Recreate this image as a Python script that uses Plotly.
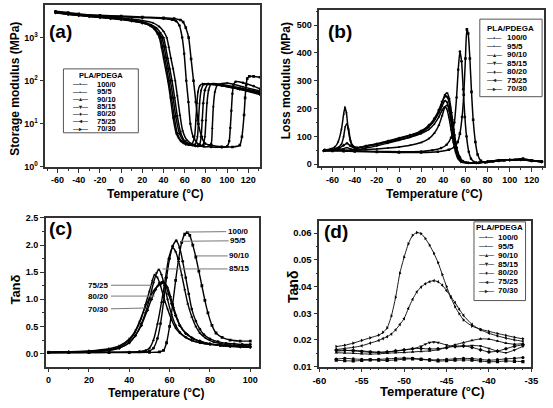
import plotly.graph_objects as go

W, H = 553, 408
FONT = "Liberation Sans, Arial, sans-serif"

series_names = ["100/0", "95/5", "90/10", "85/15", "80/20", "75/25", "70/30"]
marker_symbols = ["square", "circle", "triangle-up", "triangle-down", "diamond", "triangle-left", "triangle-right"]
legend_glyphs = ["▪", "•", "▴", "▾", "♦", "◂", "▸"]

# ---------------- Panel (a): storage modulus (MPa) ----------------
a_T_100_0 = [-62, -50, -40, -20, 0, 20, 40, 50, 56, 58.5, 61, 63.7, 66, 68.3, 70.5, 72.9, 76, 79, 85, 95, 105, 112, 114, 116, 117, 118, 119, 121, 125, 131]
a_E_100_0 = [4100, 3800, 3550, 3300, 3150, 3000, 2880, 2750, 2570, 2300, 1700, 1000, 320, 100, 32, 10, 5, 3.5, 3.2, 2.95, 2.9, 3.2, 5, 16, 40, 80, 112, 126, 126, 120]
a_T_95_5 = [-62, -50, -40, -20, 0, 20, 40, 48, 52, 55, 57.6, 59.5, 61.5, 63.5, 65.3, 68, 72.9, 78, 85, 95, 100, 102, 103, 104, 105, 106, 108, 115, 125, 131]
a_E_95_5 = [3900, 3600, 3400, 3200, 3050, 2900, 2750, 2600, 2400, 1900, 1000, 420, 100, 32, 10, 5, 3.3, 3.0, 2.9, 2.85, 3.0, 4, 8, 20, 50, 80, 95, 90, 75, 65]
a_T_90_10 = [-62, -50, -40, -30, -20, -10, 0, 10, 20, 30, 36, 40, 43, 45, 47, 49, 51, 53, 55.5, 58, 62, 68, 75, 82, 85, 86, 87, 88.5, 91, 100, 115, 131]
a_E_90_10 = [3950, 3650, 3450, 3280, 3130, 3000, 2850, 2700, 2500, 2200, 1800, 1400, 1000, 600, 330, 190, 100, 45, 16, 7, 4.2, 3.3, 3.0, 3.0, 3.5, 8, 25, 55, 80, 88, 72, 58]
a_T_85_15 = [-62, -50, -40, -30, -20, -10, 0, 10, 20, 28, 33, 37, 40, 42, 44, 46, 48, 50.5, 53, 56, 60, 66, 72, 77, 79, 80, 81, 82.5, 85, 95, 112, 131]
a_E_85_15 = [3900, 3600, 3400, 3200, 3050, 2900, 2750, 2550, 2300, 2000, 1700, 1300, 1000, 600, 330, 185, 100, 40, 15, 6.5, 4, 3.3, 3.0, 3.2, 5, 12, 30, 60, 85, 82, 68, 55]
a_T_80_20 = [-62, -50, -40, -30, -20, -10, 0, 10, 20, 28, 32, 36, 38.5, 40.5, 42.5, 44.5, 46.5, 49, 51.5, 55, 59, 64, 70, 74, 75.5, 76.5, 77.5, 79, 82, 95, 112, 131]
a_E_80_20 = [3750, 3450, 3250, 3080, 2930, 2780, 2620, 2420, 2180, 1880, 1580, 1200, 1000, 620, 340, 190, 100, 40, 15, 6, 4, 3.3, 3.1, 3.3, 5, 12, 30, 60, 84, 78, 63, 48]
a_T_75_25 = [-62, -50, -40, -30, -20, -10, 0, 10, 20, 27, 31, 35, 37, 39, 41, 43, 45, 47.5, 50, 53, 57, 62, 67, 70, 72, 73, 74, 75.5, 78, 90, 110, 131]
a_E_75_25 = [3850, 3550, 3350, 3150, 3000, 2850, 2700, 2500, 2250, 1950, 1650, 1250, 1000, 620, 340, 190, 100, 40, 15, 6, 4, 3.4, 3.2, 3.4, 5, 12, 30, 60, 82, 80, 66, 52]
a_T_70_30 = [-62, -50, -40, -30, -20, -10, 0, 10, 20, 27, 31, 34, 36, 38, 40, 42, 44, 46.5, 49, 52, 56, 61, 66, 69, 70.5, 71.5, 72.5, 74, 77, 90, 110, 131]
a_E_70_30 = [3800, 3500, 3300, 3100, 2950, 2800, 2650, 2450, 2200, 1900, 1600, 1250, 1000, 600, 330, 180, 100, 40, 14, 6, 4, 3.3, 3.3, 4.5, 12, 30, 55, 75, 85, 80, 65, 50]

# ---------------- Panel (b): loss modulus (MPa) ----------------
b_T_100_0 = [-67, -60, -50, -40, -20, 0, 20, 35, 45, 50, 53, 55, 57, 58.5, 60, 61.3, 62.5, 64, 65.5, 67, 69, 71, 74, 78, 85, 95, 105, 112, 120, 129]
b_E_100_0 = [50, 48, 47, 46, 44, 42, 42, 45, 52, 62, 80, 110, 170, 250, 380, 485, 470, 380, 260, 160, 80, 35, 12, 6, 10, 14, 16, 20, 14, 10]
b_T_95_5 = [-67, -60, -50, -40, -20, 0, 20, 30, 38, 43, 47, 50, 52, 53.5, 55, 56.5, 58, 59.5, 61, 63, 65, 68, 72, 80, 90, 100, 110, 120, 129]
b_E_95_5 = [52, 50, 50, 48, 46, 45, 46, 50, 58, 70, 95, 150, 240, 340, 405, 370, 270, 170, 100, 45, 20, 8, 5, 8, 12, 15, 18, 13, 10]
b_T_90_10 = [-68, -60, -50, -40, -30, -20, -10, 0, 10, 20, 27, 32, 36, 39, 41.5, 43.5, 45.5, 47.5, 49.5, 51.5, 54, 57, 61, 70, 80, 90, 100, 110, 120, 129]
b_E_90_10 = [48, 48, 50, 50, 52, 55, 58, 62, 68, 78, 92, 112, 140, 175, 205, 212, 195, 155, 105, 60, 25, 10, 6, 5, 9, 13, 15, 17, 12, 9]
b_T_85_15 = [-68, -60, -50, -47, -44, -40, -30, -20, -10, 0, 10, 20, 27, 32, 36, 39, 41.5, 43.5, 45.5, 47.5, 49.5, 51.5, 54, 57, 61, 70, 80, 90, 100, 110, 120, 129]
b_E_85_15 = [48, 50, 56, 60, 55, 52, 58, 66, 76, 86, 98, 114, 135, 160, 190, 222, 250, 256, 235, 185, 125, 70, 30, 12, 6, 5, 10, 14, 16, 18, 13, 9]
b_T_80_20 = [-68, -60, -54, -50, -47, -44, -40, -30, -20, -10, 0, 10, 20, 27, 32, 36, 39, 42, 44, 46, 48, 50, 52, 55, 58, 63, 70, 80, 90, 100, 110, 120, 129]
b_E_80_20 = [48, 52, 58, 68, 75, 66, 58, 64, 72, 82, 92, 104, 120, 140, 165, 195, 225, 245, 240, 205, 160, 105, 60, 25, 10, 5, 5, 9, 13, 15, 16, 12, 9]
b_T_75_25 = [-68, -62, -56, -52, -50, -48.5, -47, -45.5, -44, -42, -38, -30, -20, -10, 0, 10, 20, 27, 32, 36, 39, 41.5, 43.5, 45.5, 47.5, 49.5, 51.5, 54, 57, 62, 70, 80, 90, 100, 110, 120, 129]
b_E_75_25 = [50, 52, 58, 72, 100, 135, 145, 125, 90, 68, 60, 66, 74, 84, 94, 104, 118, 135, 158, 185, 210, 228, 222, 190, 140, 90, 50, 22, 9, 5, 5, 10, 14, 16, 17, 13, 9]
b_T_70_30 = [-68, -62, -58, -55, -52, -50, -48.8, -47.5, -46, -44, -42, -38, -30, -20, -10, 0, 10, 20, 27, 32, 36, 39, 41, 43, 45, 47, 49, 51, 53, 56, 60, 70, 80, 90, 100, 110, 120, 129]
b_E_70_30 = [50, 55, 62, 80, 125, 180, 205, 185, 130, 85, 65, 58, 65, 72, 80, 88, 97, 110, 125, 145, 170, 195, 205, 200, 170, 125, 80, 45, 22, 8, 5, 5, 10, 14, 15, 16, 12, 8]

# ---------------- Panel (c): tan delta, 0-100 C ----------------
c_T_100_0 = [0, 10, 20, 30, 40, 50, 55, 57, 58.5, 60, 61.5, 63, 64.5, 66, 67.5, 68.8, 70, 71.5, 73, 74.5, 76, 77.5, 79, 81, 83, 86, 90, 95, 100]
c_V_100_0 = [0.02, 0.02, 0.02, 0.02, 0.02, 0.022, 0.03, 0.06, 0.2, 0.5, 0.9, 1.35, 1.75, 2.05, 2.2, 2.23, 2.18, 2.0, 1.78, 1.52, 1.25, 0.98, 0.75, 0.52, 0.38, 0.3, 0.25, 0.23, 0.23]
c_T_95_5 = [0, 10, 20, 30, 40, 45, 50, 52, 54, 55.5, 57, 58.5, 60, 61.5, 63.3, 65, 66.5, 68, 69.5, 71, 73, 75, 77, 80, 84, 88, 92, 96, 100]
c_V_95_5 = [0.02, 0.02, 0.021, 0.022, 0.025, 0.03, 0.05, 0.1, 0.28, 0.55, 0.95, 1.4, 1.75, 1.98, 2.08, 1.95, 1.7, 1.4, 1.1, 0.82, 0.6, 0.45, 0.35, 0.27, 0.22, 0.19, 0.18, 0.17, 0.17]
c_T_90_10 = [0, 10, 20, 30, 40, 45, 48, 50, 52, 54, 56, 58, 59.5, 61.5, 63, 64.5, 66, 67.5, 69, 71, 73, 75, 78, 82, 86, 90, 95, 100]
c_V_90_10 = [0.02, 0.021, 0.022, 0.024, 0.03, 0.04, 0.06, 0.1, 0.25, 0.55, 0.95, 1.4, 1.75, 1.95, 1.88, 1.7, 1.45, 1.18, 0.92, 0.68, 0.5, 0.38, 0.28, 0.21, 0.18, 0.16, 0.15, 0.14]
c_T_85_15 = [0, 10, 20, 30, 35, 40, 43, 46, 48, 50, 52, 53.5, 54.7, 56, 57.5, 59, 61, 63, 65, 68, 71, 75, 80, 85, 90, 95, 100]
c_V_85_15 = [0.02, 0.025, 0.035, 0.06, 0.1, 0.2, 0.33, 0.55, 0.75, 1.0, 1.3, 1.48, 1.55, 1.45, 1.25, 1.0, 0.72, 0.52, 0.4, 0.3, 0.24, 0.2, 0.17, 0.15, 0.14, 0.13, 0.13]
c_T_80_20 = [0, 10, 20, 30, 35, 40, 43, 46, 49, 51, 53, 55, 56.5, 58, 59.5, 61, 63, 65, 68, 71, 75, 80, 85, 90, 95, 100]
c_V_80_20 = [0.02, 0.025, 0.035, 0.06, 0.1, 0.2, 0.33, 0.52, 0.8, 1.0, 1.18, 1.3, 1.32, 1.25, 1.1, 0.92, 0.7, 0.52, 0.37, 0.29, 0.23, 0.18, 0.16, 0.14, 0.13, 0.12]
c_T_75_25 = [0, 10, 20, 30, 35, 40, 43, 46, 48, 50, 51.5, 52.5, 54, 55.5, 57, 59, 61, 63, 65, 68, 71, 75, 80, 85, 90, 95, 100]
c_V_75_25 = [0.025, 0.03, 0.045, 0.075, 0.12, 0.24, 0.4, 0.65, 0.9, 1.15, 1.35, 1.45, 1.4, 1.25, 1.05, 0.82, 0.62, 0.47, 0.38, 0.3, 0.25, 0.2, 0.17, 0.15, 0.13, 0.12, 0.12]
c_T_70_30 = [0, 10, 20, 30, 35, 40, 43, 45, 47.7, 50, 52, 54, 56, 57.5, 59, 60.5, 62, 64, 66, 69, 72, 76, 80, 85, 90, 95, 100]
c_V_70_30 = [0.025, 0.035, 0.05, 0.09, 0.14, 0.27, 0.42, 0.58, 0.84, 1.02, 1.15, 1.24, 1.29, 1.3, 1.22, 1.05, 0.85, 0.62, 0.47, 0.35, 0.27, 0.21, 0.18, 0.15, 0.14, 0.13, 0.12]

# ---------------- Panel (d): tan delta, low temperature ----------------
d_T_fine = [-58, -57, -56, -55, -54, -53, -52, -51, -50, -49, -48, -47, -46, -45, -44, -43, -42, -41, -40, -39, -38, -37, -36]
d_V_100_0 = [0.0124, 0.0122, 0.0121, 0.0123, 0.0125, 0.0124, 0.0123, 0.0125, 0.0128, 0.0129, 0.0127, 0.0124, 0.0121, 0.0122, 0.0124, 0.0125, 0.0124, 0.0121, 0.0118, 0.0119, 0.0121, 0.012, 0.0119]
d_V_95_5 = [0.0128, 0.0131, 0.0129, 0.0127, 0.0126, 0.0127, 0.0129, 0.0131, 0.0132, 0.0131, 0.0128, 0.0126, 0.0125, 0.0127, 0.0129, 0.0131, 0.013, 0.0127, 0.0124, 0.0126, 0.0129, 0.0131, 0.0134]
d_V_90_10 = [0.0152, 0.0151, 0.015, 0.0148, 0.0147, 0.0148, 0.015, 0.0152, 0.0153, 0.0155, 0.0157, 0.0159, 0.0163, 0.0172, 0.0182, 0.019, 0.0198, 0.0204, 0.0203, 0.0196, 0.0188, 0.0184, 0.0186]
d_T_85_15 = [-58, -57, -56, -55, -54, -53, -52, -51, -50, -49, -48, -47.5, -47, -46.5, -46, -45, -44, -43, -42, -41, -40, -39, -38, -37, -36]
d_V_85_15 = [0.0158, 0.016, 0.0161, 0.0159, 0.0156, 0.0154, 0.0155, 0.0158, 0.0162, 0.0167, 0.0176, 0.0184, 0.019, 0.0192, 0.019, 0.0181, 0.0174, 0.0176, 0.0179, 0.0177, 0.0168, 0.0158, 0.0152, 0.0162, 0.0176]
d_V_80_20 = [0.0162, 0.0161, 0.0159, 0.0156, 0.0154, 0.0153, 0.0155, 0.0159, 0.0163, 0.0167, 0.0168, 0.0166, 0.0167, 0.0171, 0.0176, 0.0178, 0.0172, 0.0163, 0.0155, 0.0158, 0.0167, 0.0176, 0.0182]
d_T_peak = [-58, -57, -56, -55, -54, -53, -52.5, -52, -51.5, -51, -50.5, -50, -49.5, -49, -48.5, -48, -47.5, -47, -46.5, -46, -45.5, -45, -44.5, -44, -43.5, -43, -42, -41, -40, -39, -38, -37, -36]
d_V_75_25 = [0.0164, 0.0168, 0.0172, 0.0178, 0.0188, 0.0198, 0.0205, 0.0212, 0.0222, 0.0238, 0.0258, 0.028, 0.0318, 0.0352, 0.038, 0.0398, 0.041, 0.0418, 0.0422, 0.0418, 0.0405, 0.0385, 0.0362, 0.034, 0.0315, 0.0292, 0.0258, 0.0238, 0.0225, 0.0215, 0.0207, 0.02, 0.0195]
d_V_70_30 = [0.0175, 0.018, 0.0188, 0.0198, 0.0208, 0.0218, 0.0228, 0.0245, 0.029, 0.036, 0.045, 0.051, 0.056, 0.0592, 0.0602, 0.0598, 0.058, 0.0555, 0.0525, 0.049, 0.0445, 0.040, 0.036, 0.0325, 0.0298, 0.0275, 0.0252, 0.024, 0.0232, 0.0224, 0.0217, 0.021, 0.0204]

# ---------------- ticks ----------------
ab_xticks = [-60, -40, -20, 0, 20, 40, 60, 80, 100, 120]
a_yticks = [1, 10, 100, 1000]
a_yticktext = ["10<sup>0</sup>", "10<sup>1</sup>", "10<sup>2</sup>", "10<sup>3</sup>"]
b_yticks = [0, 100, 200, 300, 400, 500]
c_xticks = [0, 20, 40, 60, 80, 100]
c_yticks = [0.0, 0.5, 1.0, 1.5, 2.0, 2.5]
d_xticks = [-60, -55, -50, -45, -40, -35]
d_yticks = [0.01, 0.02, 0.03, 0.04, 0.05, 0.06]

panel_a = [(a_T_100_0, a_E_100_0), (a_T_95_5, a_E_95_5), (a_T_90_10, a_E_90_10), (a_T_85_15, a_E_85_15),
           (a_T_80_20, a_E_80_20), (a_T_75_25, a_E_75_25), (a_T_70_30, a_E_70_30)]
panel_b = [(b_T_100_0, b_E_100_0), (b_T_95_5, b_E_95_5), (b_T_90_10, b_E_90_10), (b_T_85_15, b_E_85_15),
           (b_T_80_20, b_E_80_20), (b_T_75_25, b_E_75_25), (b_T_70_30, b_E_70_30)]
panel_c = [(c_T_100_0, c_V_100_0), (c_T_95_5, c_V_95_5), (c_T_90_10, c_V_90_10), (c_T_85_15, c_V_85_15),
           (c_T_80_20, c_V_80_20), (c_T_75_25, c_V_75_25), (c_T_70_30, c_V_70_30)]
panel_d = [(d_T_fine, d_V_100_0), (d_T_fine, d_V_95_5), (d_T_fine, d_V_90_10), (d_T_85_15, d_V_85_15),
           (d_T_fine, d_V_80_20), (d_T_peak, d_V_75_25), (d_T_peak, d_V_70_30)]
for pan in (panel_a, panel_b, panel_c, panel_d):
    for xs, ys in pan:
        assert len(xs) == len(ys), (len(xs), len(ys))

fig = go.Figure()
panels = [(panel_a, "x", "y", 1.5, 2.6), (panel_b, "x2", "y2", 1.5, 2.6),
          (panel_c, "x3", "y3", 1.4, 2.8), (panel_d, "x4", "y4", 0.9, 3.2)]
for data, xa, ya, lw, ms in panels:
    for (xs, ys), name, sym in zip(data, series_names, marker_symbols):
        fig.add_trace(go.Scatter(
            x=xs, y=ys, xaxis=xa, yaxis=ya, name=name, mode="lines+markers",
            line=dict(color="black", width=lw, shape="spline", smoothing=0.6),
            marker=dict(symbol=sym, size=ms, color="black"),
            showlegend=False))


def px(x):
    return x / W


def py(y):
    return 1 - y / H


def axis(domain, rng, tickvals, ticktext=None, minor_dtick=None, typ="linear", anchor=None, fsize=9):
    d = dict(domain=domain, range=rng, type=typ, anchor=anchor,
             showline=True, linecolor="#333", linewidth=1.5, mirror=True,
             ticks="outside", ticklen=4, tickwidth=1, tickcolor="#333",
             tickvals=tickvals, ticktext=ticktext if ticktext else [str(v) for v in tickvals],
             tickfont=dict(family=FONT, size=fsize, color="black", weight="bold"),
             showgrid=False, zeroline=False)
    if minor_dtick:
        d["minor"] = dict(ticks="outside", ticklen=2, tickwidth=1, tickcolor="#333", dtick=minor_dtick, showgrid=False)
    return d


fig.update_layout(
    width=W, height=H, margin=dict(l=0, r=0, t=0, b=0),
    paper_bgcolor="white", plot_bgcolor="white", showlegend=False,
    font=dict(family=FONT, color="black"),
    xaxis=axis([px(39.5), px(260)], [-71.5, 131], ab_xticks, minor_dtick=10, anchor="y"),
    yaxis=axis([py(166), py(0.5)], [0, 3.745], a_yticks, a_yticktext, typ="log", anchor="x"),
    xaxis2=axis([px(321), px(552)], [-72, 131], ab_xticks, minor_dtick=10, anchor="y2"),
    yaxis2=axis([py(165.5), py(5)], [-8, 555], b_yticks, minor_dtick=50, anchor="x2"),
    xaxis3=axis([px(40), px(259)], [-1.3, 104.3], c_xticks, minor_dtick=10, anchor="y3"),
    yaxis3=axis([py(370.7), py(218.3)], [-0.24, 2.5], c_yticks, ["%.1f" % v for v in c_yticks], minor_dtick=0.25, anchor="x3"),
    xaxis4=axis([px(321), px(539)], [-60, -35], d_xticks, minor_dtick=1, anchor="y4", fsize=9.5),
    yaxis4=axis([py(370.7), py(221.3)], [0.01, 0.0646], d_yticks, ["%.2f" % v for v in d_yticks], minor_dtick=0.005, anchor="x4", fsize=9.5),
)

ann = []
shapes = []


def text(x, y, s, size, angle=0, xanchor="center", color="black"):
    ann.append(dict(x=px(x), y=py(y), xref="paper", yref="paper", text=s, showarrow=False,
                    xanchor=xanchor, yanchor="middle", textangle=angle, borderpad=0,
                    font=dict(family=FONT, size=size, color=color, weight="bold")))


# panel letters
text(55, 27, "(a)", 19)
text(342, 27, "(b)", 19)
text(55, 229, "(c)", 19)
text(338, 232, "(d)", 19)

# axis titles
text(8, 86, "Storage modulus (MPa)", 12, -90)
text(287, 78, "Loss modulus (MPa)", 12, -90)
text(9, 292, "Tanδ", 13, -90)
text(294, 289, "Tanδ", 14, -90)
text(152.7, 194, "Temperature (°C)", 12)
text(439.5, 193.5, "Temperature (°C)", 12)
text(153.3, 398, "Temperature (°C)", 12)
text(437.7, 396, "Temperature (°C)", 13)


def legend(box, title_x, title_y, item_ys, sym_x, label_x, size=8):
    x0, y0, x1, y1 = box
    shapes.append(dict(type="rect", xref="paper", yref="paper", x0=px(x0), x1=px(x1), y0=py(y1), y1=py(y0),
                       line=dict(color="#555", width=1), fillcolor="white", layer="above"))
    text(title_x, title_y, "PLA/PDEGA", size)
    for yy, name, g in zip(item_ys, series_names, legend_glyphs):
        text(sym_x, yy, "—" + g + "—", 6, xanchor="left", color="#222")
        text(label_x, yy, name, size, xanchor="left")


legend((58, 65.5, 135, 131), 96.5, 72.5, [81.3, 88.9, 96.5, 104.1, 111.7, 119.3, 126.9], 67, 91, size=7.5)
legend((486, 14.5, 550, 94), 518, 24.5, [33.5, 42.2, 50.9, 59.6, 68.3, 77.0, 85.7], 492, 513)
legend((480, 222.3, 533, 303), 506.5, 228.5, [238.3, 247.4, 256.5, 265.6, 274.7, 283.8, 292.9], 484, 504)

# panel (c) leader-line labels
c_labels = ["100/0", "95/5", "90/10", "85/15", "75/25", "80/20", "70/30"]
c_label_at = [(94, 2.25), (94, 2.08), (94.7, 1.80), (94.7, 1.56), (25, 1.26), (25, 1.06), (25, 0.82)]
c_point_at = [(68.8, 2.24), (65.5, 2.07), (73.5, 1.80), (56.5, 1.56), (51, 1.26), (52.6, 1.06), (47.7, 0.84)]
for lab, (lx, ly), (tx, ty) in zip(c_labels, c_label_at, c_point_at):
    ann.append(dict(x=tx, y=ty, xref="x3", yref="y3", ax=lx, ay=ly, axref="x3", ayref="y3",
                    text=lab, showarrow=True, arrowhead=0, arrowwidth=1, arrowcolor="#777",
                    standoff=0, startstandoff=1, borderpad=0,
                    font=dict(family=FONT, size=8, color="black", weight="bold")))

fig.update_layout(annotations=ann, shapes=shapes)
fig.write_html("out.html", config={"displayModeBar": False},
               post_script="document.body.style.margin='0';document.body.style.overflow='hidden';")
